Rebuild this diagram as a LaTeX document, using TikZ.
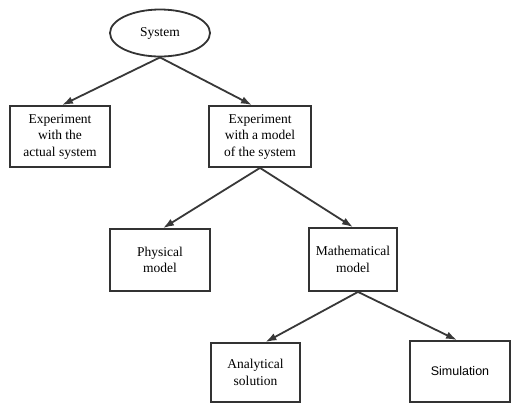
\documentclass[tikz,border=0pt]{standalone}
\usepackage{fontspec}
\setmainfont{Liberation Serif}
\newfontfamily\simfont{Liberation Sans}
\usetikzlibrary{shapes.geometric,arrows.meta,calc}
\tikzset{
  boxnode/.style={draw=black!80, line width=1.8pt, align=center, inner sep=2pt,
    font=\fontsize{13.5}{16.5}\selectfont},
  link/.style={draw=black!78, line width=1.8pt, -{Latex[length=11pt,width=7.5pt]}}
}
\begin{document}
\begin{tikzpicture}[x=1pt,y=-1pt]
\useasboundingbox[fill=white] (0,0) rectangle (512,408);
\node[boxnode, ellipse, minimum width=100pt, minimum height=47pt] (sys) at (160,33) {System};
\node[boxnode, minimum width=100pt, minimum height=61pt] (exp1) at (60,136.5) {Experiment\\with the\\actual system};
\node[boxnode, minimum width=102pt, minimum height=61pt] (exp2) at (260,136.5) {Experiment\\with a model\\of the system};
\node[boxnode, minimum width=100pt, minimum height=62pt] (phys) at (160,260) {Physical\\model};
\node[boxnode, minimum width=88pt, minimum height=63pt] (math) at (353,259.5) {Mathematical\\model};
\node[boxnode, minimum width=89pt, minimum height=59pt] (ana) at (255.5,372.5) {Analytical\\solution};
\node[boxnode, minimum width=100pt, minimum height=61pt, font=\simfont\fontsize{12.5}{15}\selectfont] (sim) at (460,371.5) {Simulation};
\draw[link] (sys.south) -- ($(exp1.north)+(2,0)$);
\draw[link] (sys.south) -- ($(exp2.north)+(-8,0)$);
\draw[link] (exp2.south) -- ($(phys.north)+(3,0)$);
\draw[link] (exp2.south) -- (math.north);
\draw[link] ($(math.south)+(5,0)$) -- ($(ana.north)+(10,0)$);
\draw[link] ($(math.south)+(5,0)$) -- ($(sim.north)+(-3,0)$);
\end{tikzpicture}
\end{document}
